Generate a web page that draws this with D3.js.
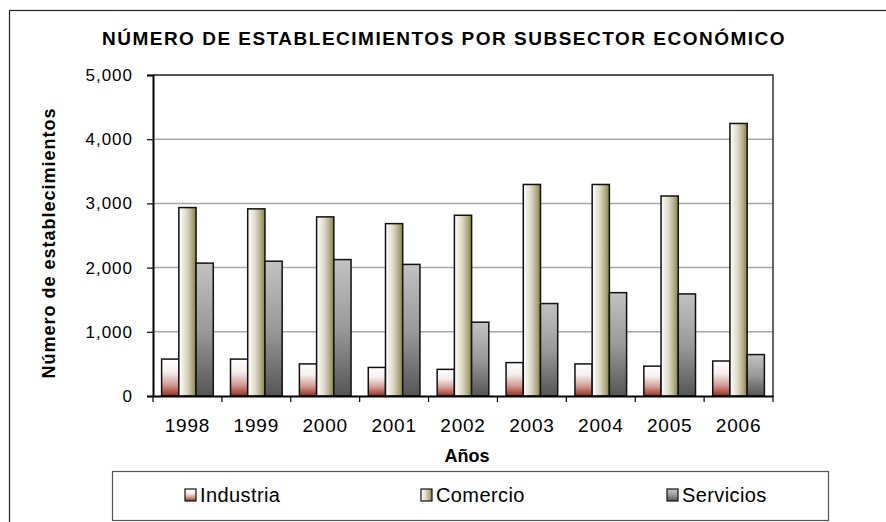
<!DOCTYPE html>
<html>
<head>
<meta charset="utf-8">
<script src="https://cdn.jsdelivr.net/npm/d3@7"></script>
<style>
  body { margin: 0; background: #fff; }
  svg { display: block; font-family: "Liberation Sans", Arial, sans-serif; }
</style>
</head>
<body>
<script>
'use strict';

// chart data
const years = ["1998", "1999", "2000", "2001", "2002", "2003", "2004", "2005", "2006"];
const seriesNames = ["Industria", "Comercio", "Servicios"];
const industria = [575, 575, 500, 445, 415, 520, 500, 465, 545];
const comercio = [2935, 2915, 2790, 2685, 2815, 3295, 3295, 3115, 4245];
const servicios = [2070, 2100, 2125, 2050, 1150, 1440, 1610, 1590, 645];
const yTicks = [0, 1000, 2000, 3000, 4000, 5000];

(function() {
  const width = 886, height = 522;
  const plot = { left: 153, right: 773, top: 75, bottom: 396 };
  const font = '"Liberation Sans", Arial, sans-serif';

  const svg = d3.select('body').append('svg')
    .attr('width', width)
    .attr('height', height);

  // gradients for the bar fills
  const defs = svg.append('defs');
  function gradient(id, x2, y2, stops) {
    const g = defs.append('linearGradient').attr('id', id)
      .attr('x1', 0).attr('y1', 0).attr('x2', x2).attr('y2', y2);
    stops.forEach(s => g.append('stop').attr('offset', s[0]).attr('stop-color', s[1]));
  }
  gradient('gInd', 0, 1, [[0, '#ffffff'], [0.35, '#f6eeee'], [0.7, '#d09a92'], [1, '#9a2e1e']]);
  gradient('gCom', 1, 0, [[0, '#ffffff'], [0.45, '#ddd9c6'], [0.75, '#b4ad88'], [1, '#84823a']]);
  gradient('gSer', 0, 1, [[0, '#c2c2c2'], [0.5, '#9a9a9a'], [1, '#555555']]);
  const fills = ['url(#gInd)', 'url(#gCom)', 'url(#gSer)'];

  // outer chart border
  svg.append('rect')
    .attr('x', 9.5).attr('y', 10.5)
    .attr('width', 900).attr('height', 600)
    .attr('fill', 'none').attr('stroke', '#222').attr('stroke-width', 1.2);

  // scales
  const x0 = d3.scaleBand().domain(years).range([plot.left, plot.right]).padding(0);
  const x1 = d3.scaleBand().domain(seriesNames).range([0, x0.bandwidth()])
    .paddingInner(0).paddingOuter(0.5);
  const y = d3.scaleLinear().domain([0, 5000]).range([plot.bottom, plot.top]);

  // gridlines
  svg.append('g').selectAll('line')
    .data(yTicks.slice(1))
    .enter().append('line')
    .attr('x1', plot.left).attr('x2', plot.right)
    .attr('y1', d => y(d)).attr('y2', d => y(d))
    .attr('stroke', '#a8a8a8').attr('stroke-width', 1.5);

  // plot area border (top and right)
  svg.append('path')
    .attr('d', `M${plot.left},${plot.top}H${plot.right}V${plot.bottom}`)
    .attr('fill', 'none').attr('stroke', '#333').attr('stroke-width', 1.5);

  // bars
  const rows = years.map((yr, i) => ({ year: yr, values: [industria[i], comercio[i], servicios[i]] }));
  const groups = svg.append('g').selectAll('g')
    .data(rows)
    .enter().append('g')
    .attr('transform', d => `translate(${x0(d.year)},0)`);
  groups.selectAll('rect')
    .data(d => d.values.map((v, k) => ({ key: seriesNames[k], value: v, k: k })))
    .enter().append('rect')
    .attr('x', d => x1(d.key))
    .attr('width', x1.bandwidth())
    .attr('y', d => y(d.value))
    .attr('height', d => y(0) - y(d.value))
    .attr('fill', d => fills[d.k])
    .attr('stroke', '#111').attr('stroke-width', 1.5);

  // y axis
  const yAxis = d3.axisLeft(y).tickValues(yTicks).tickSize(6).tickPadding(14)
    .tickFormat(d3.format(','));
  const yg = svg.append('g').attr('transform', `translate(${plot.left},0)`).call(yAxis);
  yg.select('.domain').attr('stroke', '#000').attr('stroke-width', 2);
  yg.selectAll('.tick line').attr('stroke', '#000').attr('stroke-width', 1.2);
  yg.selectAll('.tick text')
    .style('font-size', '17px').style('letter-spacing', '1px')
    .style('font-family', font).attr('fill', '#000');

  // x axis with ticks on the band edges
  const xAxis = d3.axisBottom(x0).tickSize(0).tickPadding(23);
  const xg = svg.append('g').attr('transform', `translate(0,${plot.bottom})`).call(xAxis);
  xg.select('.domain').attr('stroke', '#000').attr('stroke-width', 2);
  xg.selectAll('.tick text')
    .style('font-size', '19px').style('letter-spacing', '0.8px')
    .style('font-family', font).attr('fill', '#000');
  const edges = years.map(d => x0(d)).concat([plot.right]);
  xg.selectAll('.edge')
    .data(edges)
    .enter().append('line')
    .attr('class', 'edge')
    .attr('x1', d => d).attr('x2', d => d)
    .attr('y1', 0).attr('y2', 6)
    .attr('stroke', '#000').attr('stroke-width', 1.2);

  // title and axis labels
  svg.append('text')
    .attr('x', 444).attr('y', 45)
    .attr('text-anchor', 'middle')
    .style('font-size', '19px').style('font-weight', 'bold').style('letter-spacing', '1.5px')
    .text('NÚMERO DE ESTABLECIMIENTOS POR SUBSECTOR ECONÓMICO');

  svg.append('text')
    .attr('x', 467).attr('y', 462)
    .attr('text-anchor', 'middle')
    .style('font-size', '18px').style('font-weight', 'bold')
    .text('Años');

  svg.append('text')
    .attr('transform', 'translate(55,243)rotate(-90)')
    .attr('text-anchor', 'middle')
    .style('font-size', '18px').style('font-weight', 'bold').style('letter-spacing', '1px')
    .text('Número de establecimientos');

  // legend
  svg.append('rect')
    .attr('x', 112.5).attr('y', 471.5)
    .attr('width', 716).attr('height', 49)
    .attr('fill', 'none').attr('stroke', '#555').attr('stroke-width', 1.2);
  const legendX = [185, 421, 667];
  const legend = svg.selectAll('.legend')
    .data(seriesNames)
    .enter().append('g')
    .attr('class', 'legend')
    .attr('transform', (d, i) => `translate(${legendX[i]},489)`);
  legend.append('rect')
    .attr('width', 11).attr('height', 12)
    .attr('fill', (d, i) => fills[i])
    .attr('stroke', '#111').attr('stroke-width', 1.2);
  legend.append('text')
    .attr('x', 15).attr('y', 13)
    .style('font-size', '20px').style('letter-spacing', '0.4px')
    .text(d => d);
})();
</script>
</body>
</html>
